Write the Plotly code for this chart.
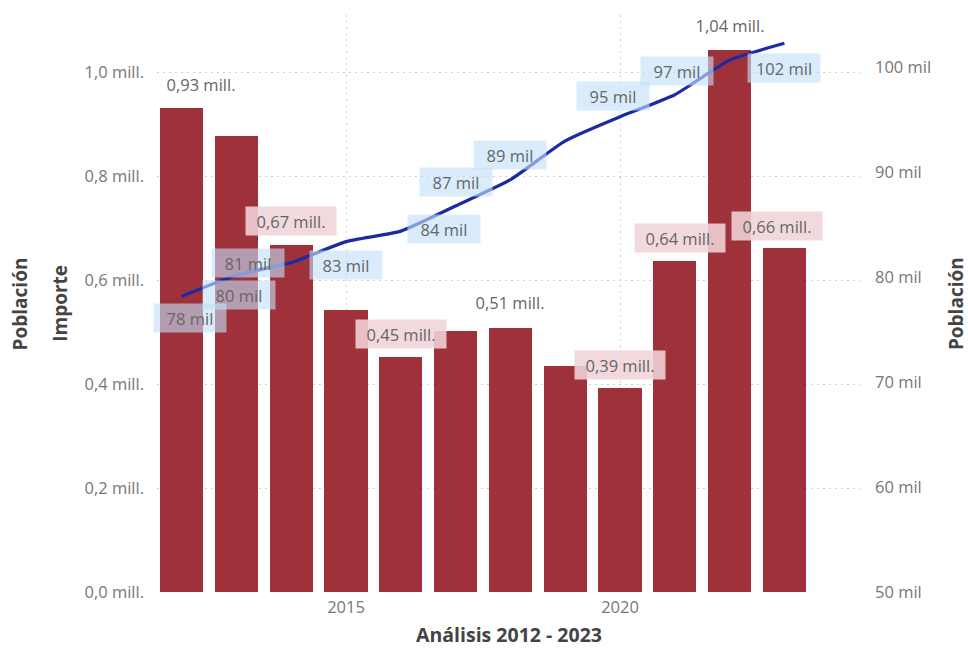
import plotly.graph_objects as go

years = [2012, 2013, 2014, 2015, 2016, 2017, 2018, 2019, 2020, 2021, 2022, 2023]
importe_mill = [0.931, 0.877, 0.667, 0.542, 0.452, 0.502, 0.507, 0.435, 0.392, 0.637, 1.042, 0.661]
poblacion_mil = [78.2, 80.2, 81.4, 83.4, 84.4, 86.8, 89.3, 93.0, 95.3, 97.4, 100.7, 102.3]

x_tick_vals = [2015, 2020]
x_tick_text = ["2015", "2020"]
y_tick_vals = [0, 0.2, 0.4, 0.6, 0.8, 1.0]
y_tick_text = ["0,0 mill.", "0,2 mill.", "0,4 mill.", "0,6 mill.", "0,8 mill.", "1,0 mill."]
y2_tick_vals = [50, 60, 70, 80, 90, 100]
y2_tick_text = ["50 mil", "60 mil", "70 mil", "80 mil", "90 mil", "100 mil"]

# which data labels Power BI displays
bar_label_shown = [True, False, True, False, True, False, True, False, True, True, True, True]
line_label_shown = [True, True, True, True, True, True, True, False, True, True, False, True]

# label placement (pixel shifts) and boxes
bar_label_shift = [(19, 24), (0, 24), (0, 24), (0, 24), (0, 23), (0, 24), (0, 26), (0, 24), (0, 23), (5, 23), (0, 25), (-7, 22)]
bar_label_box = [False, False, True, False, True, False, False, False, True, True, False, True]
line_label_shift = [(8, -22), (3, -20), (-43, 0), (0, -23), (43, 2), (0, 24), (0, 25), (0, 0), (-7, 21), (2, 24), (0, 0), (0, -25)]

FONT = "Segoe UI, Open Sans, sans-serif"
BAR_COLOR = "#9e313a"
LINE_COLOR = "#1b2aa3"
TXT = "#666666"
GRID = "#cfcfcf"
LBL = 16.5

fig = go.Figure()
fig.add_trace(go.Bar(x=years, y=importe_mill, width=0.79, marker=dict(color=BAR_COLOR, line=dict(width=0)),
                     yaxis="y", hoverinfo="skip"))
fig.add_trace(go.Scatter(x=years, y=poblacion_mil, mode="lines", yaxis="y2",
                         line=dict(color=LINE_COLOR, width=3.2, shape="spline", smoothing=0.5), hoverinfo="skip"))

ann = []
for i, (yr, v) in enumerate(zip(years, importe_mill)):
    if not bar_label_shown[i]:
        continue
    xs, ys = bar_label_shift[i]
    txt = f"{v:.2f}".replace(".", ",") + " mill."
    box = bar_label_box[i]
    ann.append(dict(x=yr, y=v, xref="x", yref="y", text=txt, showarrow=False,
                    xshift=xs, yshift=ys, font=dict(family=FONT, size=LBL, color=TXT),
                    bgcolor="rgba(240,212,216,0.88)" if box else "rgba(0,0,0,0)",
                    width=88, height=26, borderpad=1))
for i, (yr, v) in enumerate(zip(years, poblacion_mil)):
    if not line_label_shown[i]:
        continue
    xs, ys = line_label_shift[i]
    ann.append(dict(x=yr, y=v, xref="x", yref="y2", text=f"{round(v)} mil", showarrow=False,
                    xshift=xs, yshift=ys, font=dict(family=FONT, size=LBL, color=TXT),
                    bgcolor="rgba(196,224,250,0.62)", width=70, height=26, borderpad=1))

# axis titles
title_font = dict(family=FONT, size=19, color="#444444")
ann.append(dict(x=-0.139, y=0.5, xref="paper", yref="paper", text="<b>Importe</b>", textangle=-90,
                xanchor="center", yanchor="middle", showarrow=False, font=title_font))
ann.append(dict(x=-0.195, y=0.5, xref="paper", yref="paper", text="<b>Población</b>", textangle=-90,
                xanchor="center", yanchor="middle", showarrow=False, font=title_font))
ann.append(dict(x=1.136, y=0.5, xref="paper", yref="paper", text="<b>Población</b>", textangle=-90,
                xanchor="center", yanchor="middle", showarrow=False, font=title_font))
ann.append(dict(x=0.5, y=-0.074, xref="paper", yref="paper", text="<b>Análisis 2012 - 2023</b>",
                xanchor="center", yanchor="middle", showarrow=False,
                font=dict(family=FONT, size=19.5, color="#444444")))

tickfont = dict(family=FONT, size=LBL, color="#777777")
fig.update_layout(
    width=968, height=649,
    margin=dict(l=157, r=108, t=15, b=57),
    paper_bgcolor="white", plot_bgcolor="white",
    showlegend=False,
    bargap=0,
    annotations=ann,
    xaxis=dict(range=[2011.55, 2024.38], tickvals=x_tick_vals, ticktext=x_tick_text,
               showgrid=True, gridcolor=GRID, griddash="2px,4px", gridwidth=1,
               zeroline=False, showline=False, ticks="", ticklabelstandoff=3, tickfont=tickfont),
    yaxis=dict(range=[0, 1.11], tickvals=y_tick_vals, ticktext=y_tick_text,
               showgrid=True, gridcolor=GRID, griddash="2px,4px", gridwidth=1,
               zeroline=False, showline=False, ticks="", ticklabelstandoff=12, tickfont=tickfont),
    yaxis2=dict(range=[50, 105], overlaying="y", side="right", tickvals=y2_tick_vals, ticktext=y2_tick_text,
                showgrid=False, zeroline=False, showline=False, ticks="",
                ticklabelstandoff=14, tickfont=tickfont),
)

fig.write_html("out.html", config={"displayModeBar": False},
               post_script="document.body.style.margin='0';document.body.style.overflow='hidden';")
